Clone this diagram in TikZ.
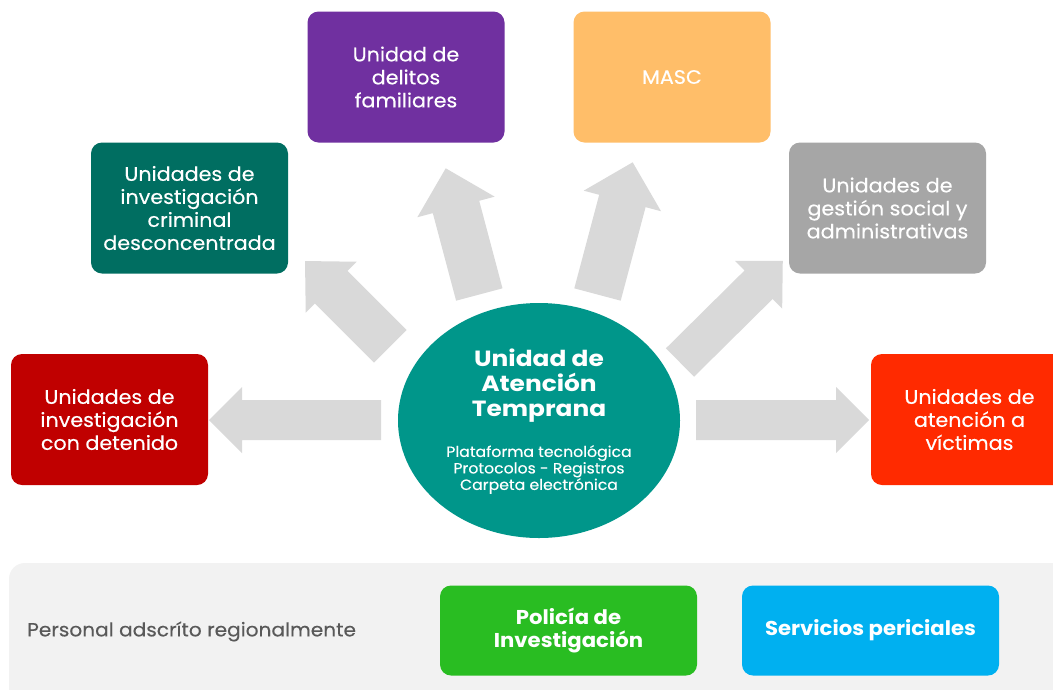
\documentclass[tikz,border=0pt]{standalone}
\usepackage{fontspec}
\setmainfont{Poppins}[FakeStretch=1.06, FakeBold=0.35]
\newfontfamily\titlefont{Poppins}[FakeStretch=1.13]
\newfontfamily\staffont{Poppins}[FakeStretch=1.06]
\usetikzlibrary{shapes.geometric}
\definecolor{cRedDark}{HTML}{C00000}
\definecolor{cTealDark}{HTML}{006E61}
\definecolor{cPurple}{HTML}{7030A0}
\definecolor{cOrange}{HTML}{FFBE69}
\definecolor{cGray}{HTML}{A6A6A6}
\definecolor{cRedBright}{HTML}{FF2A00}
\definecolor{cTeal}{HTML}{00968A}
\definecolor{cArrow}{HTML}{D9D9D9}
\definecolor{cBand}{HTML}{F2F2F2}
\definecolor{cGreen}{HTML}{29BD22}
\definecolor{cBlue}{HTML}{00B0F0}
\definecolor{cText}{HTML}{595959}
\newcommand\blockarrow[8]{%
  \begin{scope}[shift={(#2,#3)},rotate=#4]
    \coordinate (#1s) at (0,0);
    \coordinate (#1t) at (#5,0);
    \fill[cArrow] (0,-#6/2) -- (#5-#8,-#6/2) -- (#5-#8,-#7/2) -- (#1t)
      -- (#5-#8,#7/2) -- (#5-#8,#6/2) -- (0,#6/2) -- cycle;
  \end{scope}}
\tikzset{
  unitbox/.style={rounded corners=11pt, minimum width=197pt, minimum height=131pt,
    text=white, align=center, inner sep=0pt, font=\fontsize{19.5}{23}\selectfont},
  staffbox/.style={rounded corners=11pt, minimum width=257pt, minimum height=90pt,
    text=white, align=center, inner sep=0pt, font=\staffont\fontsize{20}{23}\selectfont\bfseries},
}
\begin{document}
\begin{tikzpicture}[x=1pt,y=-1pt]
\clip (0,0) rectangle (1053,689);
\fill[white] (0,0) rectangle (1053,689);
% arrows
\blockarrow{aL}{381}{420}{180}{172}{40}{66}{33}
\blockarrow{aR}{696}{420}{0}{173}{40}{66}{33}
\blockarrow{aUL}{390.3}{346.3}{135}{120.6}{46}{72}{37}
\blockarrow{aUML}{479.3}{294.5}{104.9}{130.6}{48}{80}{40}
\blockarrow{aUMR}{597.5}{294.5}{75.1}{136.8}{48}{80}{40}
\blockarrow{aUR}{680}{362.5}{44.7}{144.6}{40}{67}{34}
% boxes
\node[unitbox, fill=cRedDark] (detenido) at (109.5,419.5) {Unidades de\\investigación\\con detenido};
\node[unitbox, fill=cTealDark] (criminal) at (189.5,208) {Unidades de\\investigación\\criminal\\desconcentrada};
\node[unitbox, fill=cPurple] (familiares) at (406,77) {Unidad de\\delitos\\familiares};
\node[unitbox, fill=cOrange] (masc) at (672,77) {MASC};
\node[unitbox, fill=cGray] (gestion) at (887.5,208) {Unidades de\\gestión social y\\administrativas};
\node[unitbox, fill=cRedBright] (victimas) at (969.5,419.5) {Unidades de\\atención a\\víctimas};
% center
\node[ellipse, fill=cTeal, minimum width=282pt, minimum height=235pt, inner sep=0pt] (uat) at (539,420.5) {};
\node[text=white, align=center, font=\titlefont\fontsize{22}{25}\selectfont\bfseries] (uattitle) at (539,385.5) {Unidad de\\Atención\\Temprana};
\node[text=white, align=center, font=\fontsize{14.8}{16.5}\selectfont] (uatsub) at (539,469.5) {Plataforma tecnológica\\Protocolos - Registros\\Carpeta electrónica};
% bottom band
\fill[cBand, rounded corners=16pt] (9,563) rectangle (1080,710);
\node[anchor=west, text=cText, font=\fontsize{19}{20}\selectfont, inner sep=0pt] (personal) at (27,631.5) {Personal adscríto regionalmente};
\node[staffbox, fill=cGreen] (policia) at (568.5,630.5) {Policía de\\Investigación};
\node[staffbox, fill=cBlue] (periciales) at (870.5,630.5) {Servicios periciales};
\end{tikzpicture}
\end{document}
